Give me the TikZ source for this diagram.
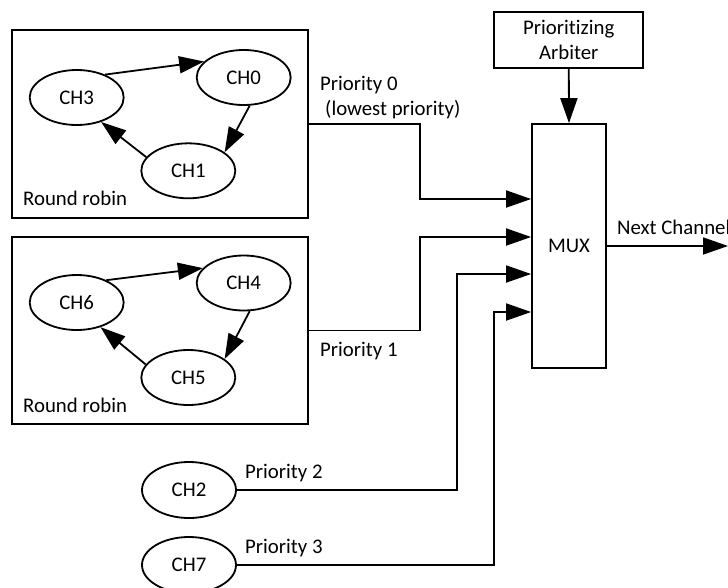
\documentclass[tikz,border=0pt]{standalone}
\usepackage{fontspec}
\setmainfont{Carlito}[Ligatures=NoCommon]
\usetikzlibrary{arrows.meta,shapes.geometric}
\begin{document}
\begin{tikzpicture}[x=1pt,y=-1pt,
  every node/.style={font=\fontsize{20.8pt}{25pt}\selectfont},
  wire/.style={line width=1.8pt},
  arr/.style={wire,-{Triangle[length=25pt,width=17pt]}},
  chan/.style={draw,ellipse,line width=1.8pt,minimum width=94pt,minimum height=55pt,inner sep=0pt},
  block/.style={draw,rectangle,line width=1.8pt,inner sep=0pt},
  lbl/.style={anchor=base west,inner sep=0pt}]
\useasboundingbox (0,0) rectangle (728,587);

% round-robin groups
\node[block,minimum width=296pt,minimum height=188pt] (rr1) at (160,124) {};
\node[block,minimum width=296pt,minimum height=187pt] (rr2) at (160,330.5) {};
\node[lbl] (rr1lbl) at (23,205) {Round robin};
\node[lbl] (rr2lbl) at (23,412.5) {Round robin};

% channels inside group 1
\node[chan] (ch3) at (76.7,97.5) {CH3};
\node[chan] (ch0) at (243.7,77.5) {CH0};
\node[chan] (ch1) at (188.3,170.8) {CH1};
\draw[arr] (ch3.39) -- (ch0.158);
\draw[arr] (ch0.282) -- (ch1.27);
\draw[arr] (ch1.162) -- (ch3.315);

% channels inside group 2
\node[chan] (ch6) at (76.7,302.5) {CH6};
\node[chan] (ch4) at (243.7,283) {CH4};
\node[chan] (ch5) at (188.3,377.5) {CH5};
\draw[arr] (ch6.37) -- (ch4.160);
\draw[arr] (ch4.282) -- (ch5.27);
\draw[arr] (ch5.163) -- (ch6.314);

% stand-alone channels
\node[chan,minimum height=56pt] (ch2) at (189,490) {CH2};
\node[chan,minimum height=56pt] (ch7) at (189,565) {CH7};

% arbiter and multiplexer
\node[block,minimum width=149pt,minimum height=56pt,align=center] (arb) at (568.8,40) {Prioritizing\\Arbiter};
\node[block,minimum width=74pt,minimum height=244pt] (mux) at (569,246) {MUX};
\draw[arr] (arb.south) -- (mux.north);

% priority inputs
\coordinate (j0) at (420,199);
\coordinate (j1) at (420,237);
\coordinate (j2) at (457,274);
\coordinate (j3) at (494,312);
\draw[arr] (rr1.east) -| (j0) -- (j0 -| mux.west);
\draw[arr] (rr2.east) -| (j1) -- (j1 -| mux.west);
\draw[arr] (ch2.east) -| (j2) -- (j2 -| mux.west);
\draw[arr] (ch7.east) -| (j3) -- (j3 -| mux.west);

\node[lbl] (p0) at (320,90) {Priority 0};
\node[lbl] (p0b) at (325,115) {(lowest priority)};
\node[lbl] (p1) at (320,356) {Priority 1};
\node[lbl] (p2) at (245,478.3) {Priority 2};
\node[lbl] (p3) at (245,553.3) {Priority 3};

% output
\coordinate (out) at (728,246);
\draw[arr] (mux.east) -- (out);
\node[lbl] (nc) at (617,234.3) {Next Channel};
\end{tikzpicture}
\end{document}
